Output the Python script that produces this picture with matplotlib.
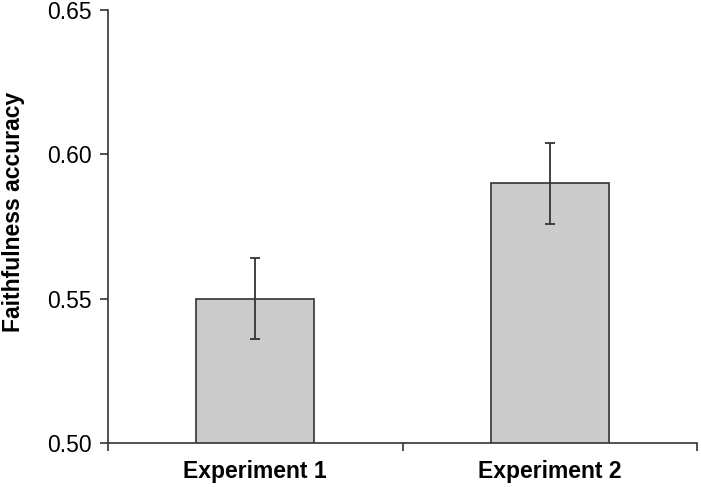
import matplotlib.pyplot as plt
from matplotlib.ticker import FixedLocator

plt.rcParams['font.family'] = ['Liberation Sans', 'DejaVu Sans']

# data
categories = ['Experiment 1', 'Experiment 2']
accuracy = [0.55, 0.59]
errors = [0.014, 0.014]

fig = plt.figure(figsize=(7.01, 4.87), dpi=100)
ax = fig.add_axes([108 / 701, 1 - 443 / 487, (697 - 108) / 701, (443 - 10) / 487])

x = list(range(len(categories)))
ax.bar(x, accuracy, width=0.4, color='#cbcbcb', edgecolor='#333333', linewidth=1.2, zorder=2)
ax.errorbar(x, accuracy, yerr=errors, fmt='none', ecolor='#333333', elinewidth=1.3,
            capsize=3.6, capthick=1.3, zorder=3)

ax.set_xlim(-0.5, len(categories) - 0.5)
ax.set_ylim(0.50, 0.65)
ax.set_yticks([0.50, 0.55, 0.60, 0.65])
ax.set_yticklabels(['0.50', '0.55', '0.60', '0.65'], fontsize=16.5)

# category labels between tick marks, like Excel
ax.set_xticks(x)
ax.set_xticklabels(categories, fontsize=16.5, fontweight='bold')
ax.tick_params(axis='x', which='major', length=0, pad=12)
ax.xaxis.set_minor_locator(FixedLocator([-0.5, 0.5, 1.5]))
ax.tick_params(axis='x', which='minor', length=6, width=1.2, color='#333333', direction='out')
ax.tick_params(axis='y', length=6, width=1.2, color='#333333', direction='out', pad=6)

for side in ['top', 'right']:
    ax.spines[side].set_visible(False)
for side in ['left', 'bottom']:
    ax.spines[side].set_color('#333333')
    ax.spines[side].set_linewidth(1.2)

# y label sits a little above the axis centre in the original
fig.text(14 / 701, 1 - 212 / 487, 'Faithfulness accuracy', rotation=90,
         ha='center', va='center', fontsize=16.5, fontweight='bold')

fig.savefig('out.png', dpi=100)
